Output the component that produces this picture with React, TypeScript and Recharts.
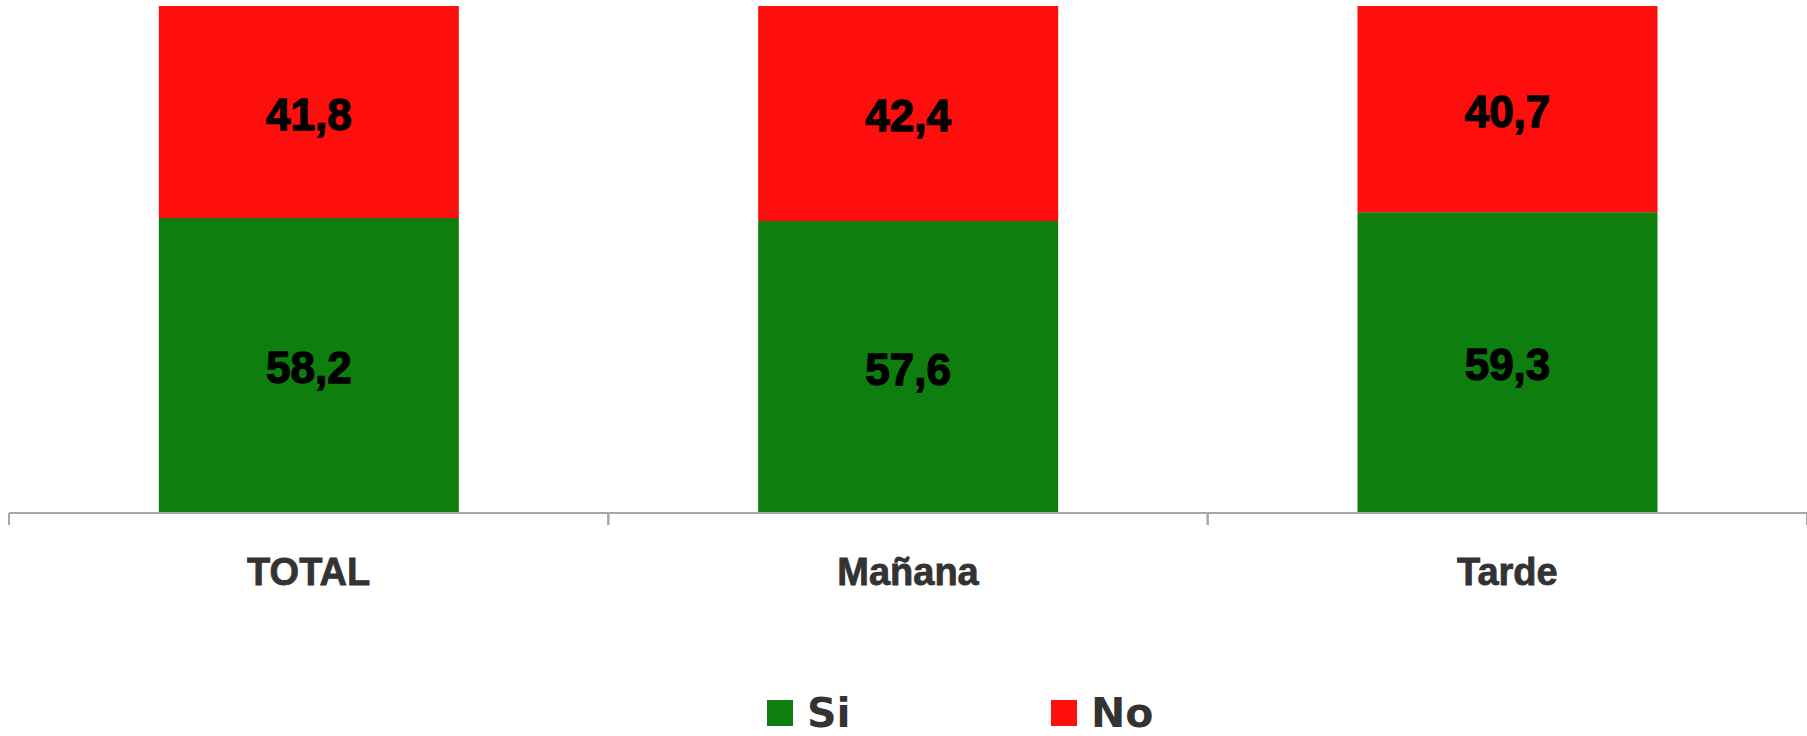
import { BarChart, Bar, XAxis, YAxis, Legend, LabelList } from 'recharts';

const categories = ['TOTAL', 'Mañana', 'Tarde'];
const siValues = [58.2, 57.6, 59.3];
const noValues = [41.8, 42.4, 40.7];

const GREEN = '#0E7F0E';
const RED = '#FF0E0E';
const AXIS_GRAY = '#a6a6a6';

const WIDTH = 1807;
const HEIGHT = 736;
const MARGIN = { top: 6, right: 0, bottom: 163, left: 9 };
const BAND = (WIDTH - MARGIN.left - MARGIN.right) / categories.length;

const data = categories.map((name, i) => ({ name, Si: siValues[i], No: noValues[i] }));

const fmt = (v: any) => String(v).replace('.', ',');

function CategoryTick(props: any) {
  const { x, y, payload } = props;
  return (
    <g>
      <line x1={x - BAND / 2} y1={y - 8} x2={x - BAND / 2} y2={y + 4} stroke={AXIS_GRAY} strokeWidth={2} />
      <line x1={x + BAND / 2} y1={y - 8} x2={x + BAND / 2} y2={y + 4} stroke={AXIS_GRAY} strokeWidth={2} />
      <text
        x={x}
        y={y + 37}
        dy="0.71em"
        textAnchor="middle"
        fill="#333"
        stroke="#333"
        strokeWidth={0.8}
        fontFamily="'Liberation Sans', Arial, sans-serif"
        fontWeight="bold"
        fontSize={38}
      >
        {payload.value}
      </text>
    </g>
  );
}

function LegendContent() {
  const items = [
    { label: 'Si', color: GREEN, width: 284 },
    { label: 'No', color: RED, width: 120 },
  ];
  return (
    <div style={{ display: 'flex', alignItems: 'center' }}>
      {items.map((it) => (
        <div key={it.label} style={{ display: 'flex', alignItems: 'center', width: it.width }}>
          <div style={{ width: 26, height: 26, background: it.color, marginRight: 14 }} />
          <span
            style={{
              fontFamily: "'DejaVu Sans', sans-serif",
              fontWeight: 'bold',
              fontSize: 41,
              color: '#333',
              lineHeight: '40px',
            }}
          >
            {it.label}
          </span>
        </div>
      ))}
    </div>
  );
}

const labelStyle = {
  fill: '#000',
  stroke: '#000',
  strokeWidth: 1.3,
  fontFamily: "'Liberation Sans', Arial, sans-serif",
  fontWeight: 'bold',
  fontSize: 44,
};

export default function App() {
  return (
    <div style={{ position: 'absolute', top: 0, left: 0, width: WIDTH, height: HEIGHT, background: '#fff' }}>
      <BarChart width={WIDTH} height={HEIGHT} data={data} margin={MARGIN} barCategoryGap="25%">
        <XAxis
          dataKey="name"
          height={60}
          tickLine={false}
          axisLine={{ stroke: AXIS_GRAY, strokeWidth: 2 }}
          tick={<CategoryTick />}
          interval={0}
        />
        <YAxis hide domain={[0, 100]} />
        <Legend
          verticalAlign="middle"
          align="center"
          layout="horizontal"
          content={<LegendContent />}
          wrapperStyle={{ top: 693, left: 767, width: 420 }}
        />
        <Bar dataKey="Si" stackId="a" fill={GREEN} isAnimationActive={false}>
          <LabelList dataKey="Si" position="center" formatter={fmt} dy={2} {...labelStyle} />
        </Bar>
        <Bar dataKey="No" stackId="a" fill={RED} isAnimationActive={false}>
          <LabelList dataKey="No" position="center" formatter={fmt} dy={2} {...labelStyle} />
        </Bar>
      </BarChart>
    </div>
  );
}
